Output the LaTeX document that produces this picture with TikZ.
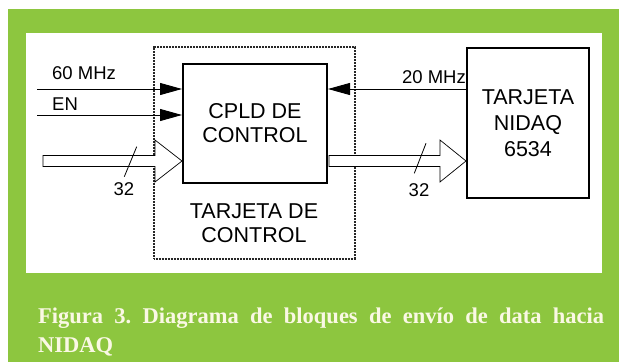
\documentclass[tikz,border=0pt]{standalone}
\usepackage{fontspec}
\setmainfont{Liberation Serif}
\newfontfamily\arialf{Liberation Sans}
\usetikzlibrary{arrows.meta,calc}
\definecolor{leaf}{RGB}{141,198,63}
\definecolor{cream}{RGB}{250,248,228}
\begin{document}
\begin{tikzpicture}[x=1pt,y=-1pt,
  blk/.style={draw, line width=2pt, inner sep=0pt, align=center,
    font=\arialf\fontsize{21.5}{24}\selectfont},
  bigtxt/.style={inner sep=0pt, align=center, font=\arialf\fontsize{21.5}{24}\selectfont},
  lbl/.style={inner sep=0pt, font=\arialf\fontsize{18.5}{20}\selectfont},
  sig/.style={line width=0.9pt, -{Triangle[length=22pt,width=12pt]}},
  bus/.style={draw, fill=white, line width=0.7pt, line join=miter},
  tick/.style={line width=0.8pt}]
\useasboundingbox (0,0) rectangle (619,362);
\fill[white] (0,0) rectangle (619,362);
\fill[leaf] (8,9) rectangle (619,362);
\fill[white] (26,33) rectangle (602,273);
% board (dotted)
\node[draw=black!85, dash pattern=on 0.9pt off 0.6pt, line width=2pt, minimum width=201pt,
  minimum height=212pt, inner sep=0pt] (board) at (254.5,153) {};
% blocks
\node[blk, minimum width=144pt, minimum height=119pt] (cpld) at (255,123.5) {CPLD DE\\CONTROL};
\node[blk, minimum width=122pt, minimum height=150pt,
  font=\arialf\fontsize{21.5}{26}\selectfont] (nidaq) at (528,123) {TARJETA\\NIDAQ\\6534};
\node[bigtxt] (tdc) at (254,223) {TARJETA DE\\CONTROL};
% signal lines
\coordinate (s60) at (37,89);
\coordinate (sen) at (37,115);
\draw[sig] (s60) -- (s60 -| cpld.west);
\draw[sig] (sen) -- (sen -| cpld.west);
\draw[sig] (nidaq.west |- s60) -- (cpld.east |- s60);
\node[lbl, anchor=base west] (l60) at (52,79) {60 MHz};
\node[lbl, anchor=base west] (len) at (52,110) {EN};
\node[lbl, anchor=base east] (l20) at (466,83) {20 MHz};
% buses
\coordinate (b1) at (43,161);
\coordinate (b2) at (cpld.east |- b1);
\draw[bus] ($(b1)+(0,-5.5)$) -- (155,155.5) -- (155,140) -- (cpld.west |- b1)
  -- (155,182) -- (155,166.5) -- ($(b1)+(0,5.5)$) -- cycle;
\draw[bus] ($(b2)+(1,-5.5)$) -- (440,155.5) -- (440,140) -- (nidaq.west |- b1)
  -- (440,182) -- (440,166.5) -- ($(b2)+(1,5.5)$) -- cycle;
\draw[tick] (136.7,146.7) -- (124.3,176.7);
\draw[tick] (426,143.3) -- (414.3,173.3);
\node[lbl, anchor=base] (n1) at (124,195) {32};
\node[lbl, anchor=base] (n2) at (419,196) {32};
% caption
\node[anchor=base west, inner sep=0pt, text=cream] (cap) at (38,323)
  {\parbox[t]{566pt}{\frenchspacing\fontsize{22.5}{29}\selectfont\bfseries Figura 3. Diagrama de bloques de envío de data hacia NIDAQ}};
\end{tikzpicture}
\end{document}
